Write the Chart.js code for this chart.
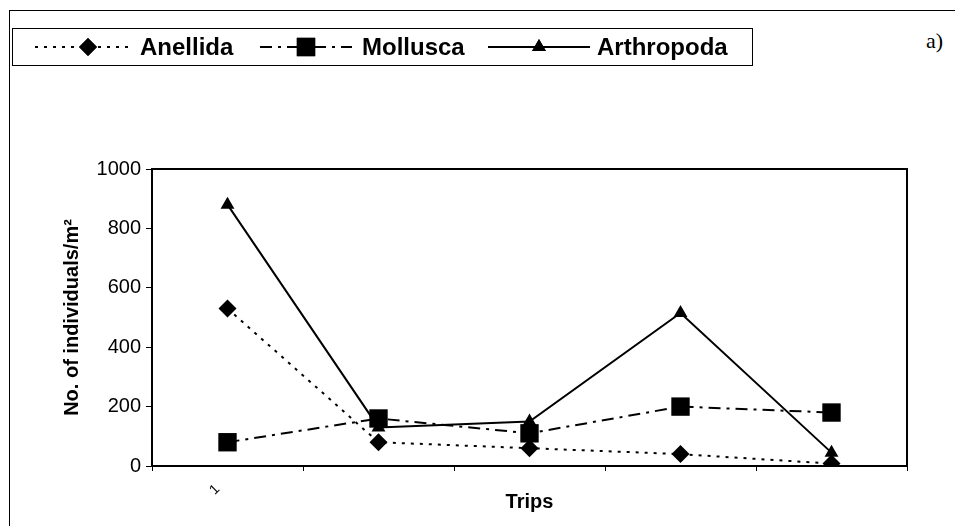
<!DOCTYPE html>
<html><head><meta charset="utf-8">
<script src="https://cdn.jsdelivr.net/npm/chart.js@4/dist/chart.umd.min.js"></script>
<style>
html,body{margin:0;padding:0;background:#fff;}
#wrap{position:relative;width:955px;height:526px;overflow:hidden;background:#fff;}
#frame{position:absolute;left:9px;top:10px;width:1000px;height:600px;border-left:1px solid #000;border-top:1px solid #000;}
#tag{position:absolute;left:926px;top:28px;font:22px "Liberation Serif","DejaVu Serif",serif;color:#000;}
canvas{position:absolute;left:0;top:0;}
</style></head><body>
<div id="wrap"><div id="frame"></div><div id="tag">a)</div><canvas id="c" width="955" height="526"></canvas></div>
<script>
// ---- data ----
const tripLabels = ["1", "", "", "", ""];
const seriesNames = ["Anellida", "Mollusca", "Arthropoda"];
const anellida   = [530, 80, 60, 40, 8];
const mollusca   = [80, 160, 110, 200, 180];
const arthropoda = [880, 130, 150, 515, 45];
const yMin = 0, yMax = 1000, yStep = 200;

const FONT = '"Liberation Sans", Arial, sans-serif';

const datasets = [
  { label: seriesNames[0], data: anellida, borderColor:'#000', backgroundColor:'#000',
    borderWidth:2, borderDash:[3,6], pointStyle:'rectRot', pointRadius:9, pointBorderWidth:0 },
  { label: seriesNames[1], data: mollusca, borderColor:'#000', backgroundColor:'#000',
    borderWidth:2, borderDash:[12,6,3,6], pointStyle:'rect', pointRadius:13, pointBorderWidth:0 },
  { label: seriesNames[2], data: arthropoda, borderColor:'#000', backgroundColor:'#000',
    borderWidth:2, borderDash:[], pointStyle:'triangle', pointRadius:8, pointBorderWidth:0 }
];

const plotBox = {
  id:'plotBox',
  afterDatasetsDraw(chart){
    const {ctx, chartArea:a} = chart;
    ctx.save();
    ctx.strokeStyle='#000'; ctx.lineWidth=2;
    ctx.strokeRect(a.left, a.top, a.right-a.left, a.bottom-a.top);
    ctx.restore();
  }
};

const customLegend = {
  id:'customLegend',
  afterDraw(chart){
    const ctx = chart.ctx;
    const box = {x:12.5, y:28.5, w:740, h:37};
    const cy = box.y + box.h/2;
    const items = [
      {x0:35,  x1:130, mx:88,  tx:140},
      {x0:260, x1:352, mx:306, tx:362},
      {x0:488, x1:590, mx:539, tx:597}
    ];
    ctx.save();
    ctx.strokeStyle='#000'; ctx.lineWidth=1;
    ctx.strokeRect(box.x, box.y, box.w, box.h);
    chart.data.datasets.forEach((ds,i)=>{
      const it = items[i];
      ctx.save();
      ctx.strokeStyle = ds.borderColor; ctx.lineWidth = ds.borderWidth;
      ctx.setLineDash(ds.borderDash || []);
      ctx.beginPath(); ctx.moveTo(it.x0, cy); ctx.lineTo(it.x1, cy); ctx.stroke();
      ctx.restore();
      ctx.fillStyle = ds.backgroundColor;
      Chart.helpers.drawPoint(ctx, {pointStyle: ds.pointStyle, radius: ds.pointRadius, rotation:0, borderWidth:0}, it.mx, cy);
      ctx.fill();
      ctx.fillStyle='#000';
      ctx.font = 'bold 24px ' + FONT;
      ctx.textBaseline='middle'; ctx.textAlign='left';
      ctx.fillText(ds.label, it.tx, cy+1);
    });
    ctx.restore();
  }
};

new Chart(document.getElementById('c'), {
  type:'line',
  data:{ labels: tripLabels, datasets },
  options:{
    responsive:false, animation:false,
    layout:{ padding:{ left:56, top:169, right:48, bottom:8 } },
    plugins:{ legend:{display:false}, tooltip:{enabled:false} },
    elements:{ line:{ tension:0, fill:false } },
    scales:{
      x:{
        type:'category', offset:true,
        afterFit(s){ s.height = 52; },
        grid:{ offset:true, drawOnChartArea:false, drawTicks:true, tickLength:5, color:'#000', lineWidth:1 },
        border:{ display:true, color:'#000', width:2 },
        ticks:{ color:'#000', font:{family:FONT, size:14}, maxRotation:45, minRotation:45, autoSkip:false, padding:10, labelOffset:-10 },
        title:{ display:true, text:'Trips', color:'#000', font:{family:FONT, size:20, weight:'bold'}, padding:{top:0,bottom:4} }
      },
      y:{
        min:yMin, max:yMax,
        afterFit(s){ s.width = 96; },
        grid:{ drawOnChartArea:false, drawTicks:true, tickLength:6, color:'#000', lineWidth:1 },
        border:{ display:true, color:'#000', width:2 },
        ticks:{ stepSize:yStep, color:'#000', font:{family:FONT, size:20}, padding:5,
                callback:(v)=>String(v) },
        title:{ display:true, text:'No. of individuals/m²', color:'#000', font:{family:FONT, size:20, weight:'bold'}, padding:{top:4,bottom:4} }
      }
    }
  },
  plugins:[plotBox, customLegend]
});
</script>
</body></html>
